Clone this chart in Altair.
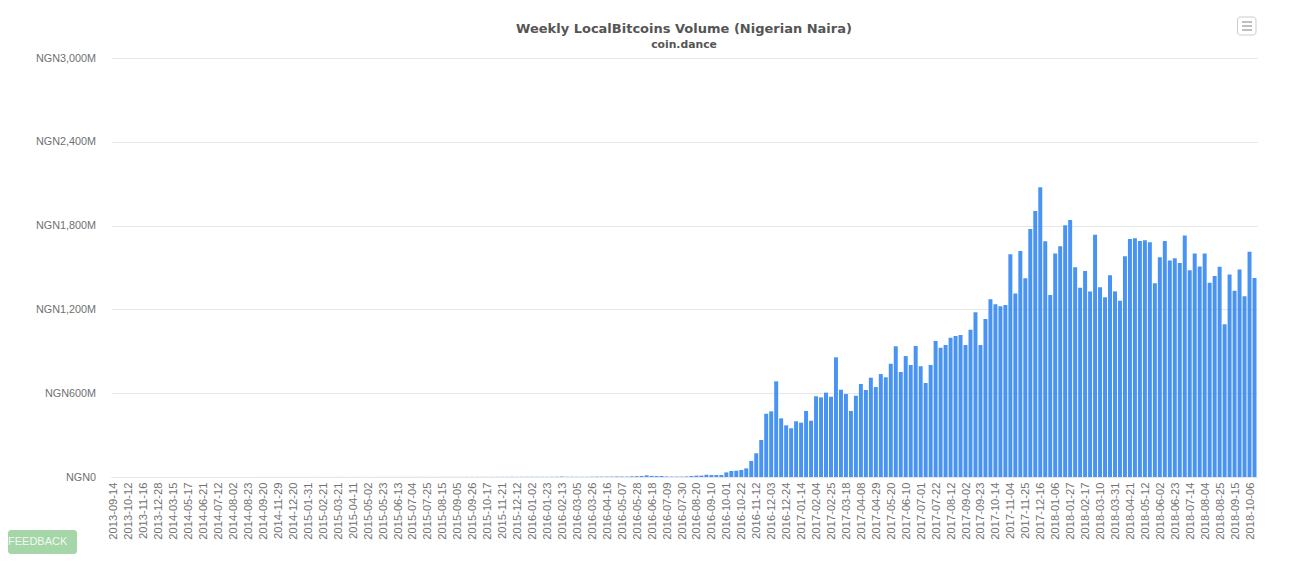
import altair as alt
import pandas as pd

chart_title = "Weekly LocalBitcoins Volume (Nigerian Naira)"
chart_subtitle = "coin.dance"

tick_labels = [
    "2013-09-14","2013-10-12","2013-11-16","2013-12-28","2014-03-15","2014-05-17","2014-06-21",
    "2014-07-12","2014-08-02","2014-08-23","2014-09-20","2014-11-29","2014-12-20","2015-01-31",
    "2015-02-21","2015-03-21","2015-04-11","2015-05-02","2015-05-23","2015-06-13","2015-07-04",
    "2015-07-25","2015-08-15","2015-09-05","2015-09-26","2015-10-17","2015-11-21","2015-12-12",
    "2016-01-02","2016-01-23","2016-02-13","2016-03-05","2016-03-26","2016-04-16","2016-05-07",
    "2016-05-28","2016-06-18","2016-07-09","2016-07-30","2016-08-20","2016-09-10","2016-10-01",
    "2016-10-22","2016-11-12","2016-12-03","2016-12-24","2017-01-14","2017-02-04","2017-02-25",
    "2017-03-18","2017-04-08","2017-04-29","2017-05-20","2017-06-10","2017-07-01","2017-07-22",
    "2017-08-12","2017-09-02","2017-09-23","2017-10-14","2017-11-04","2017-11-25","2017-12-16",
    "2018-01-06","2018-01-27","2018-02-17","2018-03-10","2018-03-31","2018-04-21","2018-05-12",
    "2018-06-02","2018-06-23","2018-07-14","2018-08-04","2018-08-25","2018-09-15","2018-10-06",
]

# Between two labelled weeks the axis hides two weeks; the last bar follows the last label.
weeks = []
for label in tick_labels:
    d = pd.Timestamp(label)
    weeks += [label, str((d + pd.Timedelta(days=7)).date()), str((d + pd.Timedelta(days=14)).date())]

early_volume = [
    0.2,0.1,0.2,0.1,0.2,0.1,0.1,0.2,0.1,0.2,0.1,0.1,0.2,0.1,0.2,0.2,0.1,0.1,0.2,0.2,
    0.1,0.2,0.2,0.1,0.2,0.2,0.2,0.2,0.2,0.2,0.3,0.2,0.3,0.2,0.3,0.3,0.3,0.2,0.3,0.3,
    0.3,0.4,0.3,0.3,0.3,0.4,0.4,0.3,0.4,0.4,0.4,0.5,0.4,0.4,0.5,0.5,0.5,0.5,0.6,0.5,
    0.6,0.6,0.7,0.6,0.6,0.7,0.7,0.8,0.8,0.7,0.8,0.9,1.0,0.9,1.0,1.0,1.1,1.2,1.3,1.2,
    1.5,1.4,1.6,1.5,1.8,1.6,1.5,1.5,1.8,2.0,3.5,2.0,1.8,1.6,1.5,1.6,2.5,3.0,2.8,3.0,
    3.0,4.0,3.5,3.0,5.0,6.0,7.0,12.0,8.0,7.0,7.0,4.0,3.0,3.0,3.0,4.0,7.0,10.0,10.0,16.0,
    14.0,14.0,14.0,33.0,43.0,45.0,
]
late_volume = [
    50,62,115,170,265,453,470,685,420,370,349,399,389,473,403,578,570,604,575,857,
    625,594,473,582,666,623,711,644,737,714,811,936,752,866,802,938,793,673,802,974,
    926,945,997,1010,1017,945,1055,1179,945,1131,1272,1236,1222,1231,1594,1313,1618,1423,1776,1905,
    2074,1688,1303,1601,1652,1802,1840,1501,1355,1475,1329,1735,1358,1287,1444,1329,1262,1580,1704,1709,
    1690,1695,1680,1387,1573,1690,1551,1566,1532,1730,1480,1601,1508,1601,1391,1439,1506,1093,1449,1334,
    1485,1294,1613,1425,
]
volume = early_volume + late_volume
weeks = weeks[:len(volume)]
y_ticks = [0, 600, 1200, 1800, 2400, 3000]

table = pd.DataFrame({"week": weeks, "volume": volume})

bars = alt.Chart(table).mark_bar(color="#3a8bf2", opacity=0.92).encode(
    x=alt.X("week:N", sort=None,
            scale=alt.Scale(paddingInner=0.2, paddingOuter=0.1),
            axis=alt.Axis(values=tick_labels, title=None, labelAngle=270, labelAlign="right",
                          labelBaseline="middle", labelFont="Liberation Sans", labelFontSize=11.2,
                          labelColor="#707070", labelPadding=5, labelOffset=1, labelOverlap=False,
                          labelFlush=False, ticks=False, grid=False, domainColor="#e6e6e6")),
    y=alt.Y("volume:Q", scale=alt.Scale(domain=[0, 3000]),
            axis=alt.Axis(values=y_ticks, title=None, labelExpr="'NGN' + format(datum.value, ',') + (datum.value ? 'M' : '')",
                          labelFont="Liberation Sans", labelFontSize=10.8, labelColor="#707070",
                          labelPadding=15.5, ticks=False, domain=False, grid=True, gridColor="#e6e6e6")),
)

one = alt.Data(values=[{"k": 0}])
title_mark = alt.Chart(one).mark_text(
    text=chart_title, color="#555555", font="DejaVu Sans", fontSize=13, fontWeight="bold",
    align="center", baseline="middle").encode(x=alt.value(573), y=alt.value(-29.5))
subtitle_mark = alt.Chart(one).mark_text(
    text=chart_subtitle, color="#555555", font="DejaVu Sans", fontSize=10.8, fontWeight="bold",
    align="center", baseline="middle").encode(x=alt.value(573), y=alt.value(-13.5))
menu_box = alt.Chart(one).mark_rect(fill="#ffffff", stroke="#cccccc", cornerRadius=3).encode(
    x=alt.value(1126.5), x2=alt.value(1145), y=alt.value(-41), y2=alt.value(-23))
menu_lines = alt.Chart(alt.Data(values=[{"y": -36}, {"y": -32}, {"y": -28}])).mark_rule(
    color="#aaaaaa", strokeWidth=1.5).encode(
    x=alt.value(1131), x2=alt.value(1141), y=alt.Y("y:Q", scale=None))
feedback_box = alt.Chart(one).mark_rect(fill="#a5d6a7", cornerRadius=3).encode(
    x=alt.value(-103), x2=alt.value(-34), y=alt.value(472), y2=alt.value(496))
feedback_text = alt.Chart(one).mark_text(
    text="FEEDBACK", color="#ffffff", opacity=0.85, font="Liberation Sans", fontSize=11, align="left", baseline="middle"
).encode(x=alt.value(-103), y=alt.value(484))

chart = alt.layer(bars, title_mark, subtitle_mark, menu_box, menu_lines, feedback_box, feedback_text).properties(
    width=1146, height=419,
    autosize=alt.AutoSizeParams(type="none"),
    padding={"left": 103, "top": 50, "right": 25, "bottom": 77},
    background="#ffffff",
).configure_view(stroke=None)

chart.save("out.html", embed_options={"renderer": "svg", "actions": False})
